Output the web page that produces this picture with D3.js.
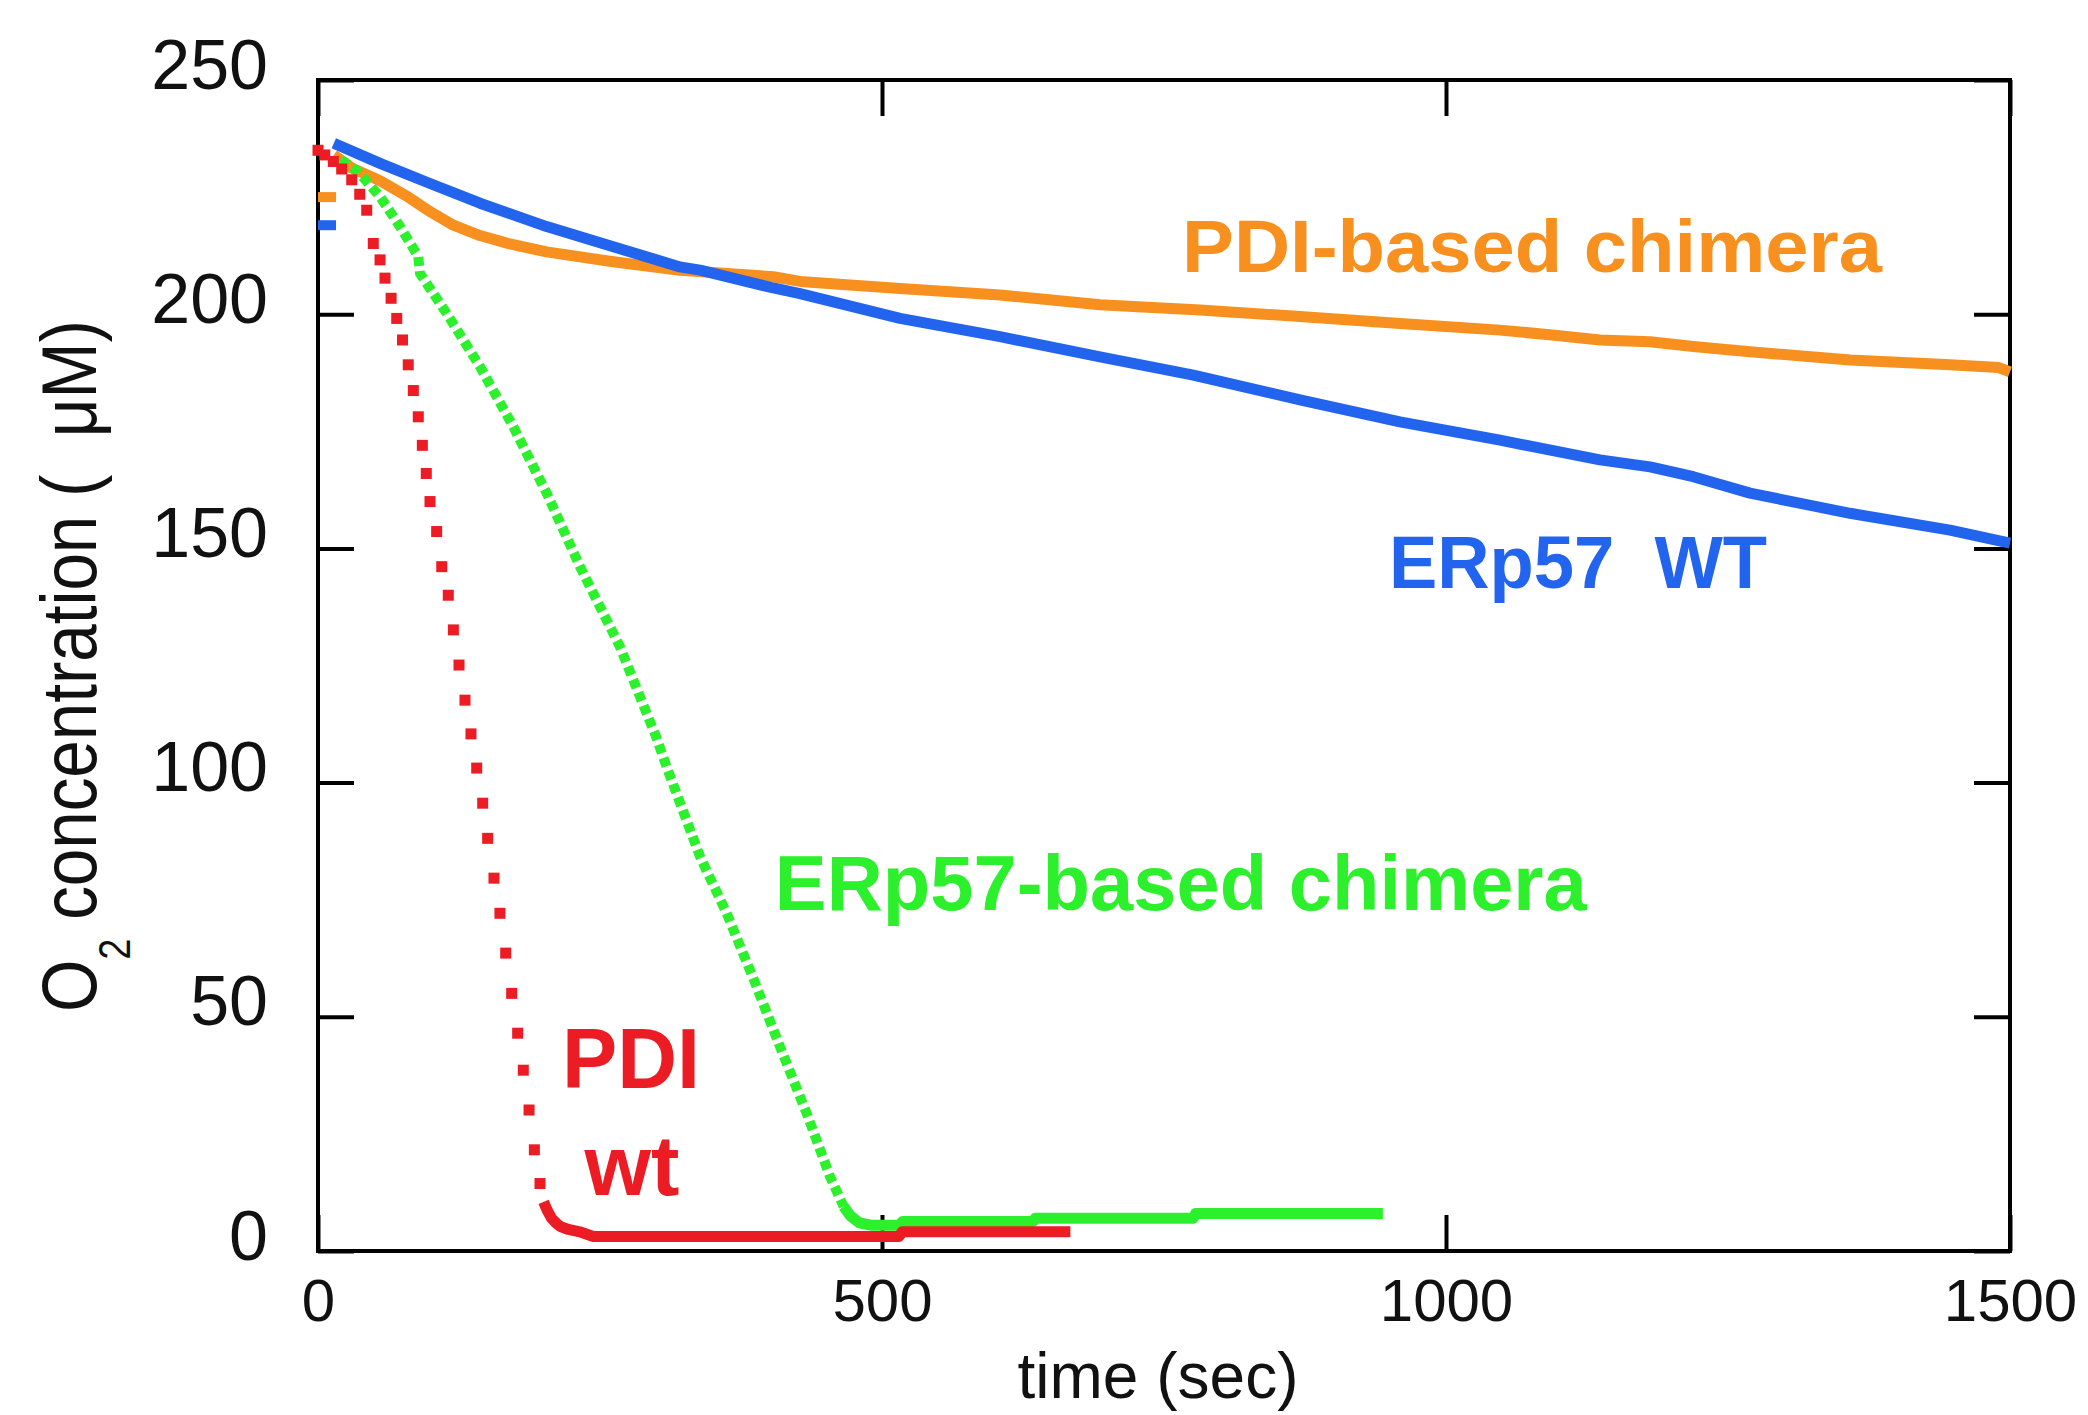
<!DOCTYPE html>
<html>
<head>
<meta charset="utf-8">
<script src="https://cdn.jsdelivr.net/npm/d3@7"></script>
<style>
  body { margin: 0; background: #fff; }
  text { font-family: "Liberation Sans", Arial, Helvetica, sans-serif; }
</style>
</head>
<body>
<div id="chart"></div>
<script>
// values, [time (sec), O2 (uM)]
var pdiDots = [[0,235],[6,234],[13.6,232.6],[21,231],[29.9,228.7],[37,225.6],[43.2,222.2],[49,215.1],
  [55,211.6],[59.4,207.7],[64.8,203.4],[69.8,199.1],[74.9,194.5],[80,189.2],[84.5,183.7],[88.9,178.1],
  [92.5,172],[96,166],[99.3,160],[105.2,153.6],[109.7,146.1],[115.5,140],[120,132.6],[125,125.1],
  [130.3,117.6],[135.6,110.4],[140.7,103.1],[146,95.6],[150.4,88.1],[156,79.6],[161.3,72.1],[166.4,63.6],
  [171.7,55],[177,46.5],[182,38.6],[187.1,30.1],[191.8,21.6],[196.8,14.4]];
var pdiLine = [[200,10.5],[203,8.8],[207,7],[211,6],[215,5.2],[222,4.6],[232,4.1],[244,3.1],
  [515,3.1],[518,4.1],[667,4.1]];

var erChimeraDash = [[20,233],[35.7,230.4],[55,225.1],[72.7,218.7],[88.9,212.3],[90.4,208.7],
  [114,200.2],[143.6,188.8],[173.1,176],[202.7,161.8],[232.3,146.1],[267.7,129],[300.2,109.5],
  [309,103.4],[338.7,84.2],[362.3,72.1],[385.9,58.2],[409.6,43.6],[433.2,29.4],[453.9,15.9],[466,9.5]];
var erChimeraLine = [[466,9.5],[472,7.5],[480,6],[490,5.5],[516,5.5],[518,6.3],[634,6.3],[636,7],
  [776,7],[778,8],[944,8]];

var erp57Pre = [[0,219],[16,219]];
var erp57 = [[14,236.5],[55,232.2],[99.3,227.9],[143.6,223.7],[202.7,218.7],[261.8,214.4],[320.9,210.1],
  [338.7,209.4],[403.6,205.6],[427.3,204.4],[516,199.1],[604.6,195.2],[693.3,190.9],[776,187],
  [870.6,181.7],[959.2,177],[1047.9,173.1],[1136.5,168.9],[1180.9,167.4],[1219.2,165.3],
  [1269.5,161.8],[1358.2,157.5],[1446.8,153.9],[1500,151.1]];

var pdiChimeraPre = [[0,225],[16,225]];
var pdiChimera = [[14,234],[30,231.2],[55,228.5],[80,225],[100,221.8],[120,219],[143.6,216.8],[170,215],
  [202.7,213.3],[261.8,211.2],[320.9,209.4],[403.6,208],[427.3,207],[516,205.5],[604.6,204.1],[693.3,202],
  [781.9,200.9],[870.6,199.5],[959.2,198],[1047.9,196.6],[1092,195.6],[1136.5,194.5],[1180.9,194.1],
  [1219.2,193.1],[1269.5,192],[1358.2,190.2],[1446.8,189.2],[1490,188.6],[1500,187.7]];

var xTicks = [0, 500, 1000, 1500];
var yTicks = [0, 50, 100, 150, 200, 250];
var labelTexts = ["PDI-based chimera", "ERp57  WT", "ERp57-based chimera", "PDI", "wt"];

var orange = "#f7901e", blue = "#2364ee", green = "#2cf02c", red = "#ec1c24";

var svg = d3.select("#chart")
  .append("svg")
  .attr("width", 2088)
  .attr("height", 1415)
  .style("background", "#fff");

var x = d3.scaleLinear().domain([0, 1500]).range([318, 2010]);
var y = d3.scaleLinear().domain([0, 250]).range([1251, 80]);

// frame
svg.append("rect")
  .attr("x", x(0)).attr("y", y(250))
  .attr("width", x(1500) - x(0)).attr("height", y(0) - y(250))
  .attr("fill", "none").attr("stroke", "#000").attr("stroke-width", 4);

function tidy(g) {
  g.select(".domain").remove();
  g.selectAll(".tick line").attr("stroke", "#000").attr("stroke-width", 4);
}

// bottom axis with labels
svg.append("g")
  .attr("transform", "translate(0," + y(0) + ")")
  .call(d3.axisBottom(x).tickValues(xTicks).tickFormat(d3.format("d")).tickSize(-36).tickSizeOuter(0))
  .call(tidy)
  .call(function(g) {
    g.selectAll("text")
      .attr("y", 70).attr("dy", null)
      .style("font-size", "60px").attr("fill", "#111");
  });

// top axis, ticks only
svg.append("g")
  .attr("transform", "translate(0," + y(250) + ")")
  .call(d3.axisTop(x).tickValues(xTicks).tickSize(-36).tickSizeOuter(0).tickFormat(""))
  .call(tidy);

// left axis with labels
svg.append("g")
  .attr("transform", "translate(" + x(0) + ",0)")
  .call(d3.axisLeft(y).tickValues(yTicks).tickSize(-36).tickSizeOuter(0))
  .call(tidy)
  .call(function(g) {
    g.selectAll("text")
      .attr("x", -50).attr("y", 8).attr("dy", null)
      .style("font-size", "70px").attr("fill", "#111");
  });

// right axis, ticks only
svg.append("g")
  .attr("transform", "translate(" + x(1500) + ",0)")
  .call(d3.axisRight(y).tickValues(yTicks).tickSize(-36).tickSizeOuter(0).tickFormat(""))
  .call(tidy);

// axis titles
svg.append("text")
  .attr("x", 1158).attr("y", 1398)
  .attr("text-anchor", "middle")
  .style("font-size", "64px")
  .attr("fill", "#111")
  .text("time (sec)");

var ytitle = svg.append("text")
  .attr("transform", "translate(96,666) rotate(-90)")
  .attr("text-anchor", "middle")
  .attr("textLength", 692)
  .attr("lengthAdjust", "spacingAndGlyphs")
  .style("font-size", "78px")
  .attr("fill", "#111");
ytitle.append("tspan").text("O");
ytitle.append("tspan").attr("dy", 34).style("font-size", "44px").text("2");
ytitle.append("tspan").attr("dy", -34).text(" concentration (\u00a0\u00a0\u03bcM)");

var line = d3.line()
  .x(function(d) { return x(d[0]); })
  .y(function(d) { return y(d[1]); });

function drawLine(data, color, width, dash) {
  svg.append("path")
    .datum(data)
    .attr("d", line)
    .attr("fill", "none")
    .attr("stroke", color)
    .attr("stroke-width", width)
    .attr("stroke-linejoin", "round")
    .attr("stroke-dasharray", dash || null);
}

drawLine(pdiChimeraPre, orange, 10);
drawLine(erp57Pre, blue, 10);
drawLine(pdiChimera, orange, 11);
drawLine(erp57, blue, 11);
drawLine(erChimeraDash, green, 10, "9,5");
drawLine(erChimeraLine, green, 11);
drawLine(pdiLine, red, 11);

// PDI wt is plotted as separate square markers
svg.selectAll(".pdi-dot")
  .data(pdiDots)
  .enter()
  .append("rect")
    .attr("class", "pdi-dot")
    .attr("x", function(d) { return x(d[0]) - 5.5; })
    .attr("y", function(d) { return y(d[1]) - 5.5; })
    .attr("width", 11)
    .attr("height", 11)
    .attr("fill", red);

// in-plot series labels
var labelPos = [
  {t: 766, v: 209, len: 700, size: 74, color: orange, anchor: "start"},
  {t: 949.5, v: 141.5, len: 378, size: 74, color: blue, anchor: "start"},
  {t: 405, v: 72.8, len: 812, size: 77, color: green, anchor: "start"},
  {t: 277.5, v: 34.8, len: 138, size: 86, color: red, anchor: "middle"},
  {t: 278.4, v: 12, len: 95, size: 86, color: red, anchor: "middle"}
];

svg.selectAll(".series-label")
  .data(labelTexts)
  .enter()
  .append("text")
    .attr("class", "series-label")
    .attr("x", function(d, i) { return x(labelPos[i].t); })
    .attr("y", function(d, i) { return y(labelPos[i].v); })
    .attr("text-anchor", function(d, i) { return labelPos[i].anchor; })
    .attr("textLength", function(d, i) { return labelPos[i].len; })
    .attr("lengthAdjust", "spacingAndGlyphs")
    .style("font-size", function(d, i) { return labelPos[i].size + "px"; })
    .style("font-weight", "bold")
    .style("white-space", "pre")
    .attr("fill", function(d, i) { return labelPos[i].color; })
    .text(function(d) { return d; });
</script>
</body>
</html>
